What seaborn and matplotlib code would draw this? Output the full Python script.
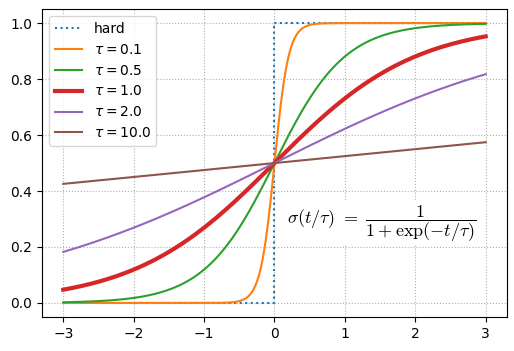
import numpy as np
import pandas as pd
import matplotlib
matplotlib.use("Agg")
import matplotlib.pyplot as plt
import seaborn as sns

# temperaturas y colores de cada curva
taus = [0.1, 0.5, 1.0, 2.0, 10.0]
colores = ["C1", "C2", "C3", "C4", "C5"]
grosores = [1.5, 1.5, 3.0, 1.5, 1.5]
t = np.linspace(-3, 3, 601)

# escalon duro
t_hard = [-3.0, 0.0, 0.0, 3.0]
y_hard = [0.0, 0.0, 1.0, 1.0]

fig, ax = plt.subplots(figsize=(5.14, 3.51), dpi=100)

sns.lineplot(x=t_hard, y=y_hard, ax=ax, color="C0", linestyle=":", linewidth=1.5,
             label="hard", sort=False, estimator=None)

# sigmoides con temperatura
for tau, c, lw in zip(taus, colores, grosores):
    y = 1.0 / (1.0 + np.exp(-t / tau))
    sns.lineplot(x=t, y=y, ax=ax, color=c, linewidth=lw, label=r"$\tau = %.1f$" % tau)

ax.text(1.52, 0.285, r"$\sigma(t/\tau)\ =\ \dfrac{1}{1+\exp(-t/\tau)}$",
        ha="center", va="center", fontsize=13, math_fontfamily="cm",
        bbox=dict(facecolor="white", edgecolor="none", pad=1))

ax.grid(True, linestyle=":", color="#b0b0b0")
ax.set_xticks([-3, -2, -1, 0, 1, 2, 3])
ax.set_yticks([0.0, 0.2, 0.4, 0.6, 0.8, 1.0])
ax.legend(loc="upper left")
fig.subplots_adjust(left=0.082, right=0.986, top=0.974, bottom=0.097)
plt.savefig("out.png", dpi=100)
